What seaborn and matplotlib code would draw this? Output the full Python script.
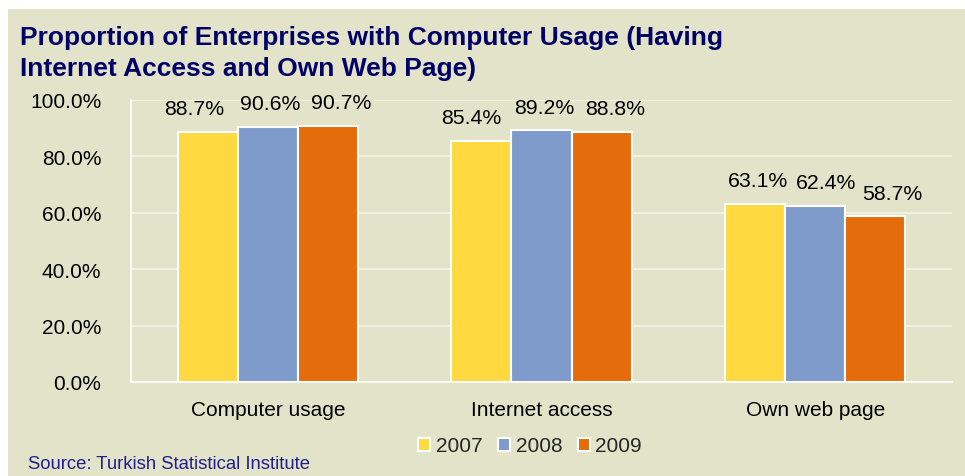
import matplotlib
matplotlib.use("Agg")
import matplotlib.pyplot as plt
import seaborn as sns
import pandas as pd

categories = ["Computer usage", "Internet access", "Own web page"]
years = ["2007", "2008", "2009"]
values_2007 = [88.7, 85.4, 63.1]
values_2008 = [90.6, 89.2, 62.4]
values_2009 = [90.7, 88.8, 58.7]
yticks = [0, 20, 40, 60, 80, 100]

rows = []
for yr, vals in zip(years, [values_2007, values_2008, values_2009]):
    for c, v in zip(categories, vals):
        rows.append({"Category": c, "Year": yr, "Value": v})
df = pd.DataFrame(rows)

sns.set_theme(style="white")
plt.rcParams['font.family'] = ['Liberation Sans', 'DejaVu Sans']

bg = "#E3E3C9"
palette = {"2007": "#FFD93F", "2008": "#7F9BCC", "2009": "#E46C0A"}
fs = 15

# horizontal nudges (pixels) of value labels, per year and category (layout only)
label_nudge_px = [[-13, -10, 3], [2, 3, 11], [13, 13, 17]]

fig = plt.figure(figsize=(9.65, 4.77), dpi=100, facecolor="white")
fig.patches.append(plt.Rectangle((8/965, 0), 1, 1 - 10/477, transform=fig.transFigure,
                                 facecolor=bg, edgecolor="none", zorder=-10))
ax = fig.add_axes([131/965, 1 - 383/477, (952-131)/965, (383-101)/477])
ax.set_facecolor(bg)
ax.patch.set_alpha(0)

sns.barplot(data=df, x="Category", y="Value", hue="Year", palette=palette, saturation=1,
            width=0.66, edgecolor="white", linewidth=1.5, ax=ax, zorder=3)

for i, cont in enumerate(ax.containers):
    for j, bar in enumerate(cont):
        h = bar.get_height()
        ax.annotate(f"{h:.1f}%", xy=(bar.get_x() + bar.get_width() / 2, h),
                    xytext=(label_nudge_px[i][j] * 0.72, 10), textcoords="offset points",
                    ha="center", va="bottom", fontsize=15.3, color="black")

ax.set_ylim(0, 100)
ax.set_xlim(-0.5, 2.5)
ax.set_yticks(yticks)
ax.set_yticklabels([f"{t:.1f}%" for t in yticks], fontsize=fs, color="black")
ax.tick_params(axis="y", which="major", direction="out", length=4.5, color="white", width=1, pad=17)
ax.tick_params(axis="x", which="major", length=0, labelsize=fs, labelcolor="black", pad=13)
ax.set_xticks([-0.5, 0.5, 1.5, 2.5], minor=True)
ax.tick_params(axis="x", which="minor", direction="out", length=4.5, color="white", width=1)
ax.set_xlabel("")
ax.set_ylabel("")
ax.yaxis.grid(True, color="#F4F4E8", linewidth=1.2, zorder=0)
ax.set_axisbelow(True)
for side in ["top", "right"]:
    ax.spines[side].set_visible(False)
for side in ["left", "bottom"]:
    ax.spines[side].set_color("white")
    ax.spines[side].set_linewidth(1.2)

leg = ax.legend(loc="center", bbox_to_anchor=(530/965, 1 - 447/477), bbox_transform=fig.transFigure,
                ncol=3, frameon=False, fontsize=fs, handlelength=0.6, handleheight=0.6,
                handletextpad=0.25, columnspacing=0.75)
for h in leg.legend_handles:
    h.set_edgecolor("white")
    h.set_linewidth(1.5)

fig.text(20/965, 1 - 45/477, "Proportion of Enterprises with Computer Usage (Having",
         ha="left", va="baseline", fontsize=19, fontweight="bold", color="#000066")
fig.text(20/965, 1 - 76/477, "Internet Access and Own Web Page)",
         ha="left", va="baseline", fontsize=19, fontweight="bold", color="#000066")
fig.text(28/965, 1 - 465/477, "Source: Turkish Statistical Institute", ha="left", va="center",
         fontsize=13.3, color="#1F1F8F")

fig.savefig("out.png", dpi=100, facecolor="white")
